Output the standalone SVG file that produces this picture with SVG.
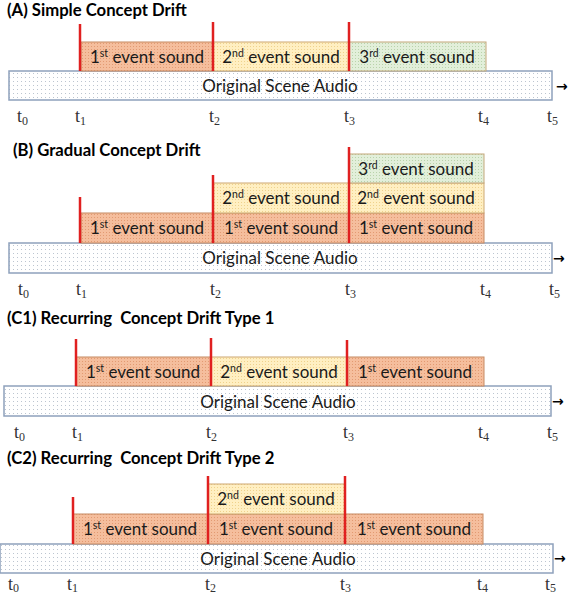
<svg xmlns="http://www.w3.org/2000/svg" width="570" height="598" viewBox="0 0 570 598">
<defs>
<pattern id="pO" width="3" height="3" patternUnits="userSpaceOnUse"><rect width="3" height="3" fill="#F5BE9D"/><rect x="1" y="1" width="1" height="1" fill="#E29A72"/></pattern>
<pattern id="pY" width="3" height="3" patternUnits="userSpaceOnUse"><rect width="3" height="3" fill="#FFEFC2"/><rect x="1" y="1" width="1" height="1" fill="#EFD28C"/></pattern>
<pattern id="pG" width="3" height="3" patternUnits="userSpaceOnUse"><rect width="3" height="3" fill="#E2EFDA"/><rect x="1" y="1" width="1" height="1" fill="#B9D3AA"/></pattern>
<pattern id="pA" width="4" height="4" patternUnits="userSpaceOnUse"><rect width="4" height="4" fill="#FFFFFF"/><rect x="1" y="1" width="1" height="1" fill="#BCC5D0"/></pattern>
<style>
.title{font-family:Lato,"Open Sans","Liberation Sans",sans-serif;font-weight:bold;font-size:16.7px;fill:#000;white-space:pre}
.ev{font-family:Lato,"Open Sans","Liberation Sans",sans-serif;font-size:17px;fill:#1a1a1a;text-anchor:middle}
.au{font-family:Lato,"Open Sans","Liberation Sans",sans-serif;font-size:17px;fill:#1a1a1a;text-anchor:middle}
.sup{font-size:10.5px}
.t{font-family:"Liberation Serif","DejaVu Serif",serif;font-size:18px;fill:#333}
.sub{font-size:12px}
.o{fill:url(#pO);stroke:#C58A62;stroke-width:1}
.y{fill:url(#pY);stroke:#CDA873;stroke-width:1}
.g{fill:url(#pG);stroke:#C4A77A;stroke-width:1}
.a{fill:url(#pA);stroke:#8EA1BC;stroke-width:1.5}
.red{stroke:#E02020;stroke-width:2.5}
.arr{font-family:"DejaVu Sans",sans-serif;font-weight:bold;font-size:14px;fill:#000}
</style>
</defs>

<!-- Section A -->
<g id="titleA"><text class="title" x="7" y="16">(A) Simple Concept Drift</text></g>
<g id="A-audio"><rect class="a" x="9" y="71" width="543" height="29"/><text class="au" x="280" y="92">Original Scene Audio</text></g>
<g id="A-ev1"><rect class="o" x="81" y="42" width="132" height="29"/><text class="ev" x="147" y="63">1<tspan class="sup" dy="-6">st</tspan><tspan dy="6"> event sound</tspan></text></g>
<g id="A-ev2"><rect class="y" x="213" y="42" width="136" height="29"/><text class="ev" x="281" y="63">2<tspan class="sup" dy="-6">nd</tspan><tspan dy="6"> event sound</tspan></text></g>
<g id="A-ev3"><rect class="g" x="349" y="42" width="137" height="29"/><text class="ev" x="417" y="63">3<tspan class="sup" dy="-6">rd</tspan><tspan dy="6"> event sound</tspan></text></g>
<g id="A-times">
<text class="t" x="17" y="122">t<tspan class="sub" dy="3">0</tspan></text>
<text class="t" x="75" y="122">t<tspan class="sub" dy="3">1</tspan></text>
<text class="t" x="209" y="122">t<tspan class="sub" dy="3">2</tspan></text>
<text class="t" x="344" y="122">t<tspan class="sub" dy="3">3</tspan></text>
<text class="t" x="478" y="122">t<tspan class="sub" dy="3">4</tspan></text>
<text class="t" x="547" y="122">t<tspan class="sub" dy="3">5</tspan></text>
</g>

<!-- Section B -->
<g id="titleB"><text class="title" x="13" y="156">(B) Gradual Concept Drift</text></g>
<g id="B-audio"><rect class="a" x="9" y="243" width="543" height="30"/><text class="au" x="280" y="264">Original Scene Audio</text></g>
<g id="B-ev1a"><rect class="o" x="81" y="213" width="132" height="30"/><text class="ev" x="147" y="234">1<tspan class="sup" dy="-6">st</tspan><tspan dy="6"> event sound</tspan></text></g>
<g id="B-ev1b"><rect class="o" x="213" y="213" width="136" height="30"/><text class="ev" x="281" y="234">1<tspan class="sup" dy="-6">st</tspan><tspan dy="6"> event sound</tspan></text></g>
<g id="B-ev2b"><rect class="y" x="213" y="183" width="136" height="30"/><text class="ev" x="281" y="204">2<tspan class="sup" dy="-6">nd</tspan><tspan dy="6"> event sound</tspan></text></g>
<g id="B-ev1c"><rect class="o" x="349" y="213" width="135" height="30"/><text class="ev" x="416" y="234">1<tspan class="sup" dy="-6">st</tspan><tspan dy="6"> event sound</tspan></text></g>
<g id="B-ev2c"><rect class="y" x="349" y="183" width="135" height="30"/><text class="ev" x="416" y="204">2<tspan class="sup" dy="-6">nd</tspan><tspan dy="6"> event sound</tspan></text></g>
<g id="B-ev3c"><rect class="g" x="349" y="154" width="135" height="29"/><text class="ev" x="416" y="175">3<tspan class="sup" dy="-6">rd</tspan><tspan dy="6"> event sound</tspan></text></g>
<g id="B-times">
<text class="t" x="18" y="295">t<tspan class="sub" dy="3">0</tspan></text>
<text class="t" x="76" y="295">t<tspan class="sub" dy="3">1</tspan></text>
<text class="t" x="210" y="295">t<tspan class="sub" dy="3">2</tspan></text>
<text class="t" x="345" y="295">t<tspan class="sub" dy="3">3</tspan></text>
<text class="t" x="480" y="295">t<tspan class="sub" dy="3">4</tspan></text>
<text class="t" x="549" y="295">t<tspan class="sub" dy="3">5</tspan></text>
</g>

<!-- Section C1 -->
<g id="titleC1"><text class="title" x="7" y="324" xml:space="preserve">(C1) Recurring  Concept Drift Type 1</text></g>
<g id="C1-audio"><rect class="a" x="4" y="386" width="547" height="30"/><text class="au" x="278" y="408">Original Scene Audio</text></g>
<g id="C1-ev1"><rect class="o" x="76" y="357" width="135" height="29"/><text class="ev" x="143" y="378">1<tspan class="sup" dy="-6">st</tspan><tspan dy="6"> event sound</tspan></text></g>
<g id="C1-ev2"><rect class="y" x="211" y="357" width="136" height="29"/><text class="ev" x="279" y="378">2<tspan class="sup" dy="-6">nd</tspan><tspan dy="6"> event sound</tspan></text></g>
<g id="C1-ev3"><rect class="o" x="347" y="357" width="137" height="29"/><text class="ev" x="415" y="378">1<tspan class="sup" dy="-6">st</tspan><tspan dy="6"> event sound</tspan></text></g>
<g id="C1-times">
<text class="t" x="14" y="438">t<tspan class="sub" dy="3">0</tspan></text>
<text class="t" x="72" y="438">t<tspan class="sub" dy="3">1</tspan></text>
<text class="t" x="206" y="438">t<tspan class="sub" dy="3">2</tspan></text>
<text class="t" x="343" y="438">t<tspan class="sub" dy="3">3</tspan></text>
<text class="t" x="478" y="438">t<tspan class="sub" dy="3">4</tspan></text>
<text class="t" x="547" y="438">t<tspan class="sub" dy="3">5</tspan></text>
</g>

<!-- Section C2 -->
<g id="titleC2"><text class="title" x="7" y="464" xml:space="preserve">(C2) Recurring  Concept Drift Type 2</text></g>
<g id="C2-audio"><rect class="a" x="0" y="544" width="553" height="29"/><text class="au" x="278" y="565">Original Scene Audio</text></g>
<g id="C2-ev1a"><rect class="o" x="73" y="514" width="135" height="30"/><text class="ev" x="140" y="535">1<tspan class="sup" dy="-6">st</tspan><tspan dy="6"> event sound</tspan></text></g>
<g id="C2-ev1b"><rect class="o" x="208" y="514" width="137" height="30"/><text class="ev" x="276" y="535">1<tspan class="sup" dy="-6">st</tspan><tspan dy="6"> event sound</tspan></text></g>
<g id="C2-ev2b"><rect class="y" x="208" y="484" width="137" height="30"/><text class="ev" x="276" y="505">2<tspan class="sup" dy="-6">nd</tspan><tspan dy="6"> event sound</tspan></text></g>
<g id="C2-ev1c"><rect class="o" x="345" y="514" width="138" height="30"/><text class="ev" x="414" y="535">1<tspan class="sup" dy="-6">st</tspan><tspan dy="6"> event sound</tspan></text></g>
<g id="C2-times">
<text class="t" x="8" y="590">t<tspan class="sub" dy="2">0</tspan></text>
<text class="t" x="67" y="590">t<tspan class="sub" dy="2">1</tspan></text>
<text class="t" x="205" y="590">t<tspan class="sub" dy="2">2</tspan></text>
<text class="t" x="340" y="590">t<tspan class="sub" dy="2">3</tspan></text>
<text class="t" x="477" y="590">t<tspan class="sub" dy="2">4</tspan></text>
<text class="t" x="545" y="590">t<tspan class="sub" dy="2">5</tspan></text>
</g>

<!-- Connectors: red time markers and axis arrows -->
<g id="connectors">
<line class="red" x1="80" y1="24" x2="80" y2="71"/>
<line class="red" x1="213" y1="22" x2="213" y2="71"/>
<line class="red" x1="349" y1="22" x2="349" y2="71"/>
<line class="red" x1="80" y1="197" x2="80" y2="243"/>
<line class="red" x1="213" y1="175" x2="213" y2="243"/>
<line class="red" x1="349" y1="147" x2="349" y2="243"/>
<line class="red" x1="76" y1="339" x2="76" y2="386"/>
<line class="red" x1="211" y1="338" x2="211" y2="386"/>
<line class="red" x1="347" y1="340" x2="347" y2="386"/>
<line class="red" x1="73" y1="497" x2="73" y2="544"/>
<line class="red" x1="208" y1="476" x2="208" y2="544"/>
<line class="red" x1="345" y1="476" x2="345" y2="544"/>
<text class="arr" x="556" y="91">→</text>
<text class="arr" x="553" y="263">→</text>
<text class="arr" x="552" y="406">→</text>
<text class="arr" x="554" y="563">→</text>
</g>
</svg>
